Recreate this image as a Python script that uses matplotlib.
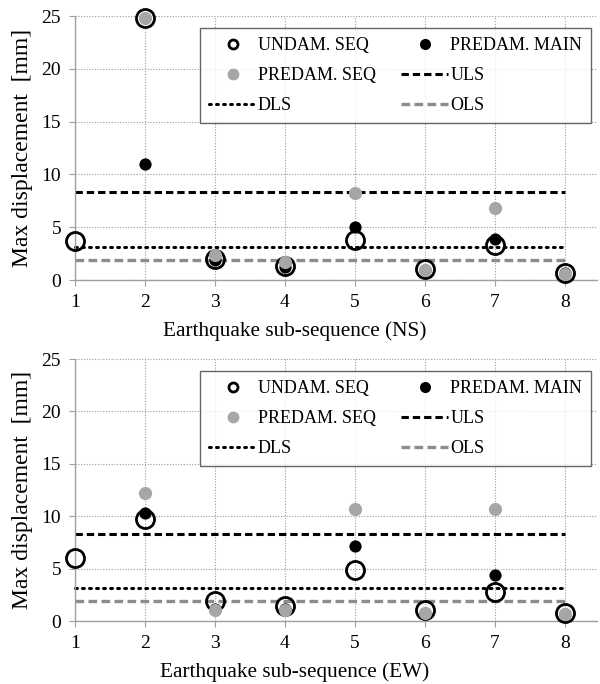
import numpy as np
import matplotlib
matplotlib.use("Agg")
import matplotlib.pyplot as plt
from matplotlib.lines import Line2D

plt.rcParams['font.family'] = ['Liberation Serif', 'DejaVu Serif']

seq = [1, 2, 3, 4, 5, 6, 7, 8]
seq_pre = [2, 3, 4, 5, 6, 7, 8]

# NS direction
ns_undam = [3.7, 24.8, 2.0, 1.3, 3.8, 1.0, 3.3, 0.7]
ns_main = [11.0, 1.9, 1.2, 5.05, 0.95, 3.9, 0.65]
ns_seq = [24.8, 2.35, 1.7, 8.27, 0.95, 6.8, 0.6]
ns_limits = {'ULS': 8.3, 'DLS': 3.15, 'OLS': 1.9}

# EW direction
ew_undam = [6.05, 9.7, 1.95, 1.43, 4.9, 1.05, 2.8, 0.73]
ew_main = [10.3, 1.1, 1.1, 7.15, 0.8, 4.4, 0.7]
ew_seq = [12.2, 1.05, 1.05, 10.65, 0.75, 10.65, 0.7]
ew_limits = {'ULS': 8.3, 'DLS': 3.18, 'OLS': 1.9}

gray_pt = '#a6a6a6'
gray_ln = '#8c8c8c'
spine_c = '#a0a0a0'

fig = plt.figure(figsize=(6, 6.84), dpi=100)
ax1 = fig.add_axes([0.125, 0.5906, 0.870, 0.3860])
ax2 = fig.add_axes([0.125, 0.0921, 0.870, 0.3830])


def draw(ax, undam, main, sq, lim, xlabel):
    ax.plot(seq, [lim['ULS']] * len(seq), color='black', lw=2.2,
            dashes=(2.4, 1.3), zorder=2)
    ax.plot(seq, [lim['DLS']] * len(seq), color='black', lw=2.2,
            dashes=(0.6, 1.7), dash_capstyle='round', zorder=2)
    ax.plot(seq, [lim['OLS']] * len(seq), color=gray_ln, lw=2.4,
            dashes=(2.6, 1.3), zorder=2)
    ax.plot(seq, undam, 'o', ms=13, mfc='none', mec='black', mew=2.0, zorder=3)
    ax.plot(seq_pre, main, 'o', ms=8.8, mfc='black', mec='black', mew=0, zorder=4)
    ax.plot(seq_pre, sq, 'o', ms=9.5, mfc=gray_pt, mec=gray_pt, mew=0, zorder=5)

    ax.set_xlim(1, 8.46)
    ax.set_ylim(0, 25)
    ax.set_xticks(seq)
    ax.set_yticks([0, 5, 10, 15, 20, 25])
    ax.grid(True, color='#9a9a9a', linestyle=(0, (1, 1.5)), lw=0.8)
    ax.set_axisbelow(True)
    for s in ['top', 'right']:
        ax.spines[s].set_visible(False)
    for s in ['left', 'bottom']:
        ax.spines[s].set_color(spine_c)
        ax.spines[s].set_linewidth(1.0)
    ax.tick_params(direction='out', length=4, color=spine_c, labelsize=14, pad=6)
    ax.set_xlabel(xlabel, fontsize=15.3)
    ax.xaxis.set_label_coords(0.42, -0.158)
    ax.set_ylabel('Max displacement  [mm]', fontsize=17, labelpad=6)

    handles = [
        Line2D([], [], ls='none', marker='o', ms=6.5, mfc='none', mec='black', mew=2.0),
        Line2D([], [], ls='none', marker='o', ms=8.5, mfc=gray_pt, mec=gray_pt, mew=0),
        Line2D([], [], color='black', lw=2.2, dashes=(0.6, 1.7), dash_capstyle='round'),
        Line2D([], [], ls='none', marker='o', ms=8, mfc='black', mec='black', mew=0),
        Line2D([], [], color='black', lw=2.2, dashes=(2.4, 1.3)),
        Line2D([], [], color=gray_ln, lw=2.4, dashes=(2.6, 1.3)),
    ]
    labels = ['UNDAM. SEQ', 'PREDAM. SEQ', 'DLS', 'PREDAM. MAIN', 'ULS', 'OLS']
    leg = ax.legend(handles, labels, ncol=2, loc='upper left',
                    bbox_to_anchor=(0.2395, 0.614, 0.749, 0.34), mode='expand',
                    fontsize=13, frameon=True, fancybox=False, edgecolor='#404040',
                    handlelength=2.6, handletextpad=0.1, labelspacing=0.72,
                    borderpad=0.5, columnspacing=1.0, borderaxespad=0)
    leg.get_frame().set_linewidth(1.0)
    leg.set_zorder(10)


draw(ax1, ns_undam, ns_main, ns_seq, ns_limits, 'Earthquake sub-sequence (NS)')
draw(ax2, ew_undam, ew_main, ew_seq, ew_limits, 'Earthquake sub-sequence (EW)')

for ax in (ax1, ax2):
    for line in ax.lines:
        line.set_clip_on(False)

fig.savefig('out.png', dpi=100)
